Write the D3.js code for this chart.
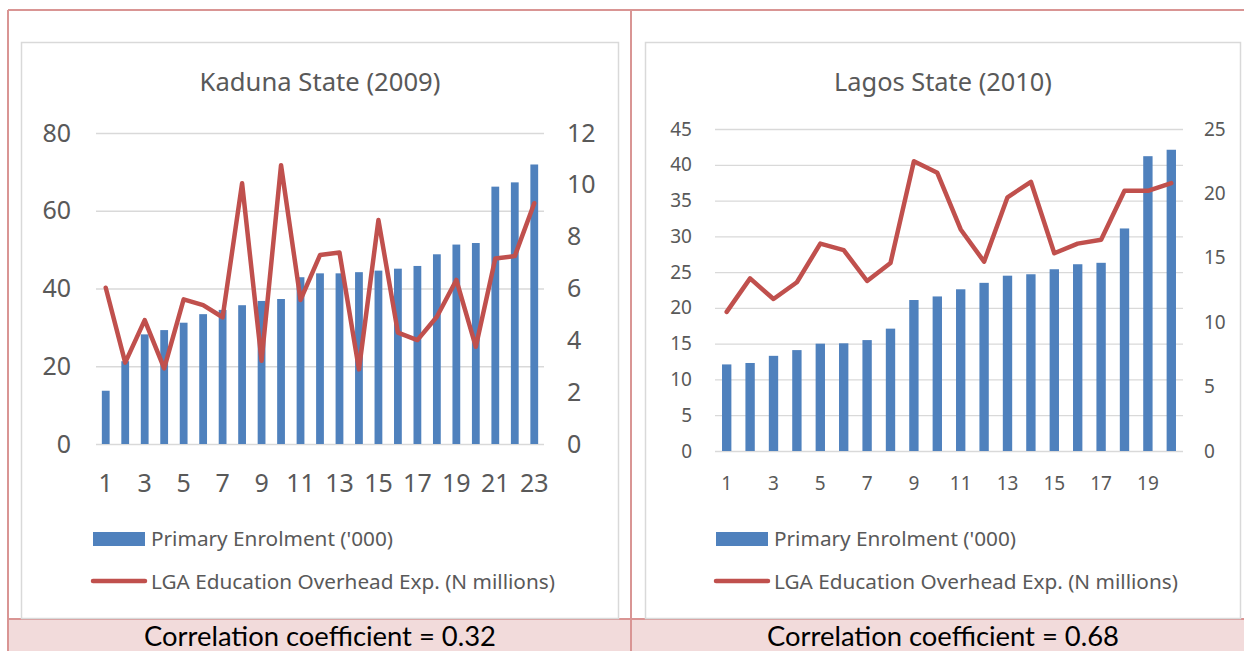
<!DOCTYPE html>
<html>
<head>
<meta charset="utf-8">
<script src="https://cdn.jsdelivr.net/npm/d3@7"></script>
<style>
  body { margin: 0; background: #fff; }
  svg { display: block; }
  text { font-family: "Noto Sans", "Open Sans", sans-serif; }
</style>
</head>
<body>
<div id="chart"></div>
<script>
// Data
const kadunaLgas = ["1","2","3","4","5","6","7","8","9","10","11","12","13","14","15","16","17","18","19","20","21","22","23"];
const kadunaEnrolment = [13.7, 21.3, 28.2, 29.3, 31.2, 33.4, 34.5, 35.7, 36.8, 37.3, 42.9, 43.9, 43.9, 44.2, 44.6, 45.1, 45.8, 48.8, 51.3, 51.7, 66.2, 67.3, 71.9];
const kadunaExpense = [6.03, 3.14, 4.78, 2.92, 5.58, 5.36, 4.89, 10.06, 3.21, 10.76, 5.56, 7.29, 7.39, 2.88, 8.64, 4.30, 4.01, 4.91, 6.33, 3.75, 7.16, 7.25, 9.29];
const kadunaLeftTicks = [0, 20, 40, 60, 80];
const kadunaRightTicks = [0, 2, 4, 6, 8, 10, 12];
const kadunaXTicks = ["1","3","5","7","9","11","13","15","17","19","21","23"];

const lagosLgas = ["1","2","3","4","5","6","7","8","9","10","11","12","13","14","15","16","17","18","19","20"];
const lagosEnrolment = [12.1, 12.3, 13.3, 14.1, 15.0, 15.05, 15.5, 17.1, 21.1, 21.6, 22.6, 23.5, 24.5, 24.7, 25.4, 26.1, 26.3, 31.1, 41.2, 42.1];
const lagosExpense = [10.8, 13.4, 11.8, 13.1, 16.1, 15.6, 13.2, 14.6, 22.5, 21.6, 17.2, 14.7, 19.7, 20.9, 15.35, 16.1, 16.4, 20.2, 20.2, 20.8];
const lagosLeftTicks = [0, 5, 10, 15, 20, 25, 30, 35, 40, 45];
const lagosRightTicks = [0, 5, 10, 15, 20, 25];
const lagosXTicks = ["1","3","5","7","9","11","13","15","17","19"];

const legendNames = ["Primary Enrolment ('000)", "LGA Education Overhead Exp. (N millions)"];
const correlations = ["Correlation coefficient = 0.32", "Correlation coefficient = 0.68"];

const width = 1244;
const height = 651;
const barColor = "#4f81bd";
const lineColor = "#c0504d";
const textColor = "#595959";
const tableColor = "#d99594";

const svg = d3.select("#chart")
    .append("svg")
    .attr("width", width)
    .attr("height", height);

// shrink or grow a text's font so it spans the width seen in the picture
function fitWidth(sel, target) {
    const size = parseFloat(sel.style("font-size"));
    const len = sel.node().getComputedTextLength();
    const newSize = size * target / len;
    sel.style("font-size", newSize + "px");
    return newSize;
}

// table cells: pink bottom row and borders
svg.append("rect")
    .attr("x", 8).attr("y", 619)
    .attr("width", width - 8).attr("height", height - 619)
    .attr("fill", "#f2dbdb");

const tableLines = [
    [8, 10, width, 10],
    [8, 10, 8, height],
    [631, 10, 631, height],
    [8, 619, width, 619]
];
svg.selectAll("line.table")
    .data(tableLines)
    .enter().append("line")
    .attr("class", "table")
    .attr("x1", d => d[0]).attr("y1", d => d[1])
    .attr("x2", d => d[2]).attr("y2", d => d[3])
    .attr("stroke", tableColor)
    .attr("stroke-width", 2);

svg.selectAll("text.corr")
    .data(correlations)
    .enter().append("text")
    .attr("class", "corr")
    .attr("x", (d, i) => i === 0 ? 320 : 943)
    .attr("y", 646)
    .attr("text-anchor", "middle")
    .style("font-family", "Lato, sans-serif")
    .style("font-size", "26px")
    .attr("fill", "#000")
    .text(d => d)
    .each(function () { fitWidth(d3.select(this), 352); });

function drawChart(opt) {
    const g = svg.append("g");

    // chart frame
    g.append("rect")
        .attr("x", opt.box[0] + 0.5).attr("y", opt.box[1] + 0.5)
        .attr("width", opt.box[2]).attr("height", opt.box[3])
        .attr("fill", "#fff")
        .attr("stroke", "#d9d9d9")
        .attr("stroke-width", 1.5);

    const title = g.append("text")
        .attr("x", opt.titleX)
        .attr("y", 82)
        .attr("dy", "0.35em")
        .attr("text-anchor", "middle")
        .attr("fill", textColor)
        .style("font-size", "22px")
        .text(opt.title);
    fitWidth(title, opt.titleWidth);

    const x = d3.scaleBand()
        .domain(opt.cats)
        .range([opt.left, opt.right])
        .paddingInner(0.6)
        .paddingOuter(0.3);

    const yLeft = d3.scaleLinear()
        .domain([0, d3.max(opt.leftTicks)])
        .range([opt.bottom, opt.top]);

    const yRight = d3.scaleLinear()
        .domain([0, d3.max(opt.rightTicks)])
        .range([opt.bottom, opt.top]);

    // gridlines
    const grid = g.append("g")
        .attr("transform", `translate(${opt.left},0)`)
        .call(d3.axisLeft(yLeft).tickValues(opt.leftTicks).tickSize(-(opt.right - opt.left)).tickFormat(""));
    grid.select(".domain").remove();
    grid.selectAll("line").attr("stroke", "#d9d9d9").attr("stroke-width", 1.3);

    // bars
    g.append("g")
        .selectAll("rect")
        .data(opt.enrol)
        .enter().append("rect")
        .attr("x", (d, i) => x(opt.cats[i]))
        .attr("y", d => yLeft(d))
        .attr("width", x.bandwidth())
        .attr("height", d => opt.bottom - yLeft(d))
        .attr("fill", barColor);

    // line
    const line = d3.line()
        .x((d, i) => x(opt.cats[i]) + x.bandwidth() / 2)
        .y(d => yRight(d));

    g.append("path")
        .datum(opt.expense)
        .attr("d", line)
        .attr("fill", "none")
        .attr("stroke", lineColor)
        .attr("stroke-width", 4.5)
        .attr("stroke-linejoin", "round")
        .attr("stroke-linecap", "round");

    // axes
    const axLeft = g.append("g")
        .attr("transform", `translate(${opt.leftLabelX},0)`)
        .call(d3.axisLeft(yLeft).tickValues(opt.leftTicks).tickSize(0).tickPadding(0));
    const axRight = g.append("g")
        .attr("transform", `translate(${opt.rightLabelX},0)`)
        .call(d3.axisRight(yRight).tickValues(opt.rightTicks).tickSize(0).tickPadding(0));
    const axBottom = g.append("g")
        .attr("transform", `translate(0,${opt.bottom})`)
        .call(d3.axisBottom(x).tickValues(opt.xTicks).tickSize(0).tickPadding(0));

    [axLeft, axRight, axBottom].forEach(ax => {
        ax.select(".domain").remove();
        ax.selectAll("text")
            .attr("fill", textColor)
            .style("font-family", "'Noto Sans', sans-serif")
            .style("font-size", opt.fontSize + "px");
    });
    axBottom.selectAll("text").attr("y", opt.xLabelDy).attr("dy", "0.35em");

    // legend
    const lg = g.append("g");
    lg.append("rect")
        .attr("x", opt.legendX).attr("y", 532)
        .attr("width", 52).attr("height", 14)
        .attr("fill", barColor);
    lg.append("line")
        .attr("x1", opt.legendX).attr("x2", opt.legendX + 52)
        .attr("y1", 581).attr("y2", 581)
        .attr("stroke", lineColor)
        .attr("stroke-width", 4.5)
        .attr("stroke-linecap", "round");
    const items = lg.selectAll("text")
        .data(legendNames)
        .enter().append("text")
        .attr("x", opt.legendX + 58)
        .attr("y", (d, i) => i === 0 ? 539 : 582)
        .attr("dy", "0.35em")
        .attr("fill", textColor)
        .style("font-size", "19px")
        .text(d => d);
    const size = fitWidth(d3.select(items.nodes()[1]), 404);
    items.style("font-size", size + "px");
}

drawChart({
    title: "Kaduna State (2009)",
    titleX: 320,
    titleWidth: 241,
    box: [21, 42, 597, 576],
    cats: kadunaLgas,
    enrol: kadunaEnrolment,
    expense: kadunaExpense,
    leftTicks: kadunaLeftTicks,
    rightTicks: kadunaRightTicks,
    xTicks: kadunaXTicks,
    left: 96, right: 544, top: 133, bottom: 444,
    leftLabelX: 71, rightLabelX: 567,
    xLabelDy: 39,
    fontSize: 25,
    legendX: 93
});

drawChart({
    title: "Lagos State (2010)",
    titleX: 943,
    titleWidth: 218,
    box: [645, 42, 595, 576],
    cats: lagosLgas,
    enrol: lagosEnrolment,
    expense: lagosExpense,
    leftTicks: lagosLeftTicks,
    rightTicks: lagosRightTicks,
    xTicks: lagosXTicks,
    left: 715, right: 1183, top: 129, bottom: 451,
    leftLabelX: 692, rightLabelX: 1204,
    xLabelDy: 32,
    fontSize: 19,
    legendX: 716
});
</script>
</body>
</html>
